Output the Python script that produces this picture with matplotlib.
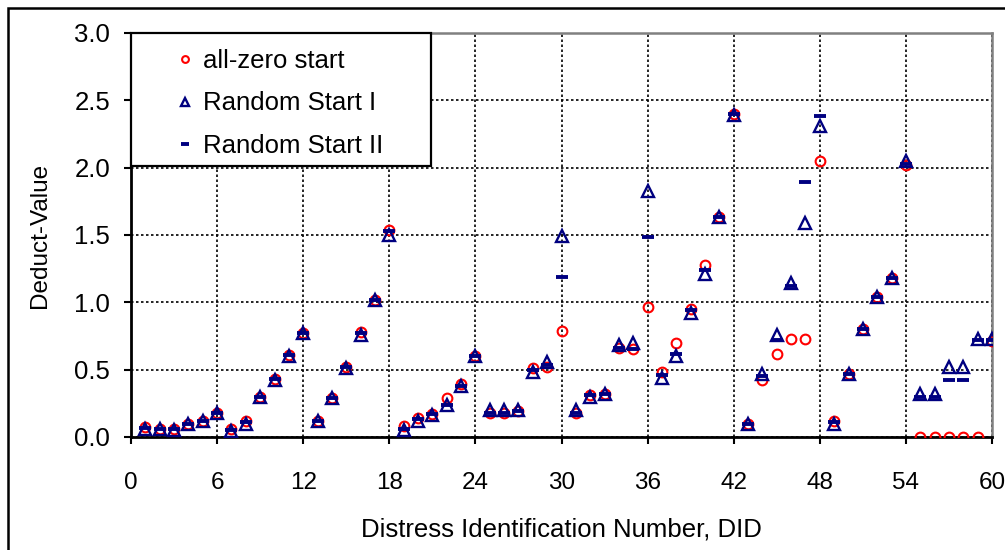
import matplotlib as mpl
mpl.use('Agg')
import matplotlib.pyplot as plt
from matplotlib.patches import Rectangle

plt.rcParams['font.family'] = ['Liberation Sans', 'DejaVu Sans']

# DID numbers 1..60
did = list(range(1, 61))

# deduct values, all-zero starting point
zero_start = [0.075, 0.057, 0.057, 0.10, 0.12, 0.18, 0.06, 0.12, 0.30, 0.43,
              0.61, 0.77, 0.12, 0.29, 0.52, 0.78, 1.02, 1.54, 0.08, 0.14,
              0.17, 0.29, 0.39, 0.60, 0.18, 0.18, 0.19, 0.51, 0.52, 0.79,
              0.18, 0.31, 0.32, 0.66, 0.65, 0.965, 0.48, 0.70, 0.95, 1.28,
              1.63, 2.40, 0.10, 0.42, 0.62, 0.73, 0.73, 2.05, 0.12, 0.47,
              0.80, 1.04, 1.18, 2.02, 0.0, 0.0, 0.0, 0.0, 0.0, 0.715]

# deduct values, random start I
random_1 = [0.06, 0.057, 0.055, 0.10, 0.12, 0.18, 0.045, 0.10, 0.30, 0.42,
            0.60, 0.77, 0.12, 0.29, 0.51, 0.76, 1.02, 1.50, 0.055, 0.12,
            0.16, 0.24, 0.38, 0.60, 0.20, 0.20, 0.20, 0.48, 0.56, 1.49,
            0.20, 0.30, 0.32, 0.68, 0.70, 1.83, 0.44, 0.60, 0.92, 1.21,
            1.63, 2.39, 0.10, 0.47, 0.76, 1.14, 1.59, 2.31, 0.10, 0.47,
            0.80, 1.04, 1.18, 2.05, 0.32, 0.32, 0.52, 0.52, 0.73, 0.73]

# deduct values, random start II
random_2 = [0.065, 0.057, 0.057, 0.10, 0.12, 0.18, 0.05, 0.11, 0.30, 0.43,
            0.61, 0.77, 0.12, 0.29, 0.52, 0.77, 1.02, 1.53, 0.06, 0.13,
            0.17, 0.24, 0.38, 0.60, 0.18, 0.18, 0.19, 0.50, 0.535, 1.19,
            0.18, 0.31, 0.32, 0.66, 0.65, 1.485, 0.46, 0.62, 0.945, 1.24,
            1.63, 2.40, 0.10, 0.45, 0.72, 1.12, 1.89, 2.38, 0.11, 0.47,
            0.80, 1.04, 1.18, 2.03, 0.30, 0.30, 0.425, 0.425, 0.72, 0.72]

x_ticks = list(range(0, 61, 6))
y_ticks = [0.0, 0.5, 1.0, 1.5, 2.0, 2.5, 3.0]

W, H = 1005, 550
fig = plt.figure(figsize=(W / 100, H / 100), dpi=100)
ax = fig.add_axes([131 / W, 1 - 437 / H, (992 - 131) / W, (437 - 33) / H])

navy = '#000080'
ax.plot(did, zero_start, 'o', ms=7, mfc='none', mec='red', mew=1.5,
        label='all-zero start', zorder=3)
ax.plot(did, random_1, '^', ms=8, mfc='none', mec=navy, mew=1.7,
        label='Random Start I', zorder=4)
ax.plot(did, random_2, '_', ms=8, mec=navy, mew=2.8,
        label='Random Start II', zorder=5)

ax.set_xlim(0, 60)
ax.set_ylim(0, 3.0)
ax.set_xticks(x_ticks)
ax.set_yticks(y_ticks)
ax.set_yticklabels([f'{v:.1f}' for v in y_ticks])
ax.tick_params(direction='out', length=5, width=1.5, color='black')
ax.tick_params(axis='x', labelsize=17.5, pad=20)
ax.tick_params(axis='y', labelsize=18.5, pad=10)
ax.grid(True, color='black', linestyle=(0, (1.5, 1.5)), linewidth=1.2)
ax.set_axisbelow(True)

for side in ('left', 'bottom'):
    ax.spines[side].set_linewidth(2)
    ax.spines[side].set_color('black')
for side in ('top', 'right'):
    ax.spines[side].set_linewidth(1.8)
    ax.spines[side].set_color('#808080')

ax.set_xlabel('Distress Identification Number, DID', fontsize=18.5)
ax.set_ylabel('Deduct-Value', fontsize=17.5)
ax.xaxis.set_label_coords(0.5, -(518 - 437) / 404)
ax.yaxis.set_label_coords((51 - 131) / 861, 0.5)

# legend box drawn separately so the entries can sit well inside it
ax.add_patch(Rectangle((0, 1 - 133 / 404), 300 / 861, 133 / 404,
                       transform=ax.transAxes, facecolor='white',
                       edgecolor='black', linewidth=1.6, zorder=9,
                       clip_on=False))
leg = ax.legend(loc='upper left', bbox_to_anchor=(172 / W, 1 - 49 / H),
                bbox_transform=fig.transFigure, fontsize=18.5, frameon=False,
                markerscale=0.7, handlelength=1.0, handletextpad=0.2,
                labelspacing=0.72, borderpad=0, borderaxespad=0)
leg.set_zorder(10)

# border round the whole chart
fig.patches.append(Rectangle((8 / W, -0.05), 1.1, 1 - 8 / H + 0.05,
                             transform=fig.transFigure, fill=False,
                             edgecolor='black', linewidth=1.8))

fig.savefig('out.png', dpi=100)
